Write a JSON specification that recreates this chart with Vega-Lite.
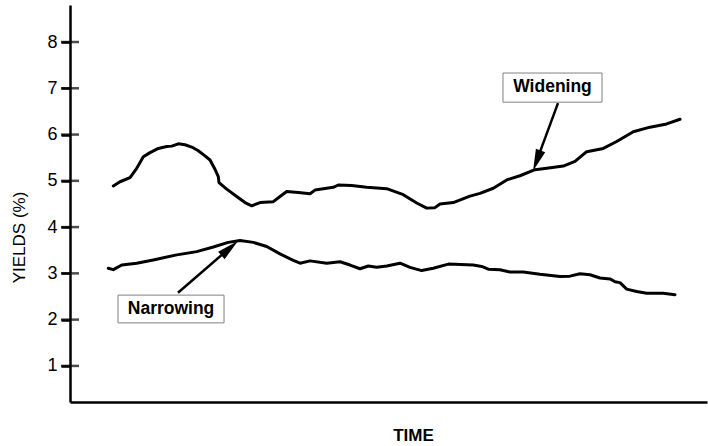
{
  "$schema": "https://vega.github.io/schema/vega-lite/v6.json",
  "autosize": {"type": "none"},
  "padding": {"left": 70, "top": 5, "right": 1, "bottom": 44},
  "width": 637,
  "height": 397,
  "background": "white",
  "config": {
    "view": {"stroke": null},
    "font": "Liberation Sans"
  },
  "datasets": {
    "curves": [
      {"t": 6.80, "yld": 4.89, "series": "upper"},
      {"t": 7.85, "yld": 4.98, "series": "upper"},
      {"t": 9.42, "yld": 5.07, "series": "upper"},
      {"t": 10.47, "yld": 5.27, "series": "upper"},
      {"t": 11.51, "yld": 5.52, "series": "upper"},
      {"t": 12.56, "yld": 5.61, "series": "upper"},
      {"t": 13.86, "yld": 5.70, "series": "upper"},
      {"t": 15.18, "yld": 5.74, "series": "upper"},
      {"t": 15.97, "yld": 5.75, "series": "upper"},
      {"t": 17.00, "yld": 5.80, "series": "upper"},
      {"t": 18.05, "yld": 5.78, "series": "upper"},
      {"t": 19.11, "yld": 5.73, "series": "upper"},
      {"t": 20.14, "yld": 5.65, "series": "upper"},
      {"t": 21.19, "yld": 5.54, "series": "upper"},
      {"t": 21.98, "yld": 5.45, "series": "upper"},
      {"t": 22.76, "yld": 5.25, "series": "upper"},
      {"t": 23.28, "yld": 5.09, "series": "upper"},
      {"t": 23.39, "yld": 4.96, "series": "upper"},
      {"t": 24.60, "yld": 4.82, "series": "upper"},
      {"t": 26.17, "yld": 4.66, "series": "upper"},
      {"t": 27.47, "yld": 4.53, "series": "upper"},
      {"t": 28.52, "yld": 4.46, "series": "upper"},
      {"t": 29.83, "yld": 4.53, "series": "upper"},
      {"t": 31.92, "yld": 4.55, "series": "upper"},
      {"t": 32.97, "yld": 4.66, "series": "upper"},
      {"t": 34.02, "yld": 4.77, "series": "upper"},
      {"t": 35.84, "yld": 4.75, "series": "upper"},
      {"t": 37.68, "yld": 4.72, "series": "upper"},
      {"t": 38.46, "yld": 4.80, "series": "upper"},
      {"t": 41.33, "yld": 4.86, "series": "upper"},
      {"t": 42.12, "yld": 4.91, "series": "upper"},
      {"t": 44.22, "yld": 4.90, "series": "upper"},
      {"t": 46.58, "yld": 4.86, "series": "upper"},
      {"t": 49.72, "yld": 4.83, "series": "upper"},
      {"t": 52.32, "yld": 4.70, "series": "upper"},
      {"t": 54.43, "yld": 4.52, "series": "upper"},
      {"t": 56.00, "yld": 4.41, "series": "upper"},
      {"t": 57.30, "yld": 4.42, "series": "upper"},
      {"t": 58.08, "yld": 4.50, "series": "upper"},
      {"t": 60.17, "yld": 4.53, "series": "upper"},
      {"t": 62.79, "yld": 4.67, "series": "upper"},
      {"t": 64.36, "yld": 4.73, "series": "upper"},
      {"t": 66.45, "yld": 4.84, "series": "upper"},
      {"t": 68.56, "yld": 5.02, "series": "upper"},
      {"t": 70.64, "yld": 5.11, "series": "upper"},
      {"t": 73.00, "yld": 5.24, "series": "upper"},
      {"t": 74.84, "yld": 5.27, "series": "upper"},
      {"t": 77.44, "yld": 5.32, "series": "upper"},
      {"t": 79.28, "yld": 5.42, "series": "upper"},
      {"t": 81.11, "yld": 5.63, "series": "upper"},
      {"t": 83.72, "yld": 5.70, "series": "upper"},
      {"t": 85.82, "yld": 5.85, "series": "upper"},
      {"t": 88.43, "yld": 6.06, "series": "upper"},
      {"t": 91.05, "yld": 6.16, "series": "upper"},
      {"t": 93.67, "yld": 6.23, "series": "upper"},
      {"t": 95.76, "yld": 6.33, "series": "upper"},
      {"t": 6.01, "yld": 3.11, "series": "lower"},
      {"t": 6.80, "yld": 3.08, "series": "lower"},
      {"t": 8.12, "yld": 3.18, "series": "lower"},
      {"t": 10.47, "yld": 3.22, "series": "lower"},
      {"t": 13.08, "yld": 3.29, "series": "lower"},
      {"t": 16.75, "yld": 3.40, "series": "lower"},
      {"t": 19.89, "yld": 3.47, "series": "lower"},
      {"t": 22.50, "yld": 3.57, "series": "lower"},
      {"t": 24.85, "yld": 3.67, "series": "lower"},
      {"t": 26.69, "yld": 3.71, "series": "lower"},
      {"t": 28.78, "yld": 3.67, "series": "lower"},
      {"t": 30.88, "yld": 3.58, "series": "lower"},
      {"t": 32.97, "yld": 3.42, "series": "lower"},
      {"t": 35.05, "yld": 3.28, "series": "lower"},
      {"t": 36.11, "yld": 3.22, "series": "lower"},
      {"t": 37.68, "yld": 3.27, "series": "lower"},
      {"t": 40.30, "yld": 3.22, "series": "lower"},
      {"t": 42.39, "yld": 3.25, "series": "lower"},
      {"t": 43.96, "yld": 3.18, "series": "lower"},
      {"t": 45.53, "yld": 3.10, "series": "lower"},
      {"t": 46.83, "yld": 3.16, "series": "lower"},
      {"t": 48.15, "yld": 3.13, "series": "lower"},
      {"t": 49.72, "yld": 3.16, "series": "lower"},
      {"t": 51.81, "yld": 3.22, "series": "lower"},
      {"t": 53.38, "yld": 3.13, "series": "lower"},
      {"t": 55.21, "yld": 3.06, "series": "lower"},
      {"t": 57.03, "yld": 3.11, "series": "lower"},
      {"t": 59.39, "yld": 3.20, "series": "lower"},
      {"t": 63.31, "yld": 3.18, "series": "lower"},
      {"t": 64.63, "yld": 3.15, "series": "lower"},
      {"t": 65.67, "yld": 3.09, "series": "lower"},
      {"t": 67.50, "yld": 3.08, "series": "lower"},
      {"t": 69.07, "yld": 3.03, "series": "lower"},
      {"t": 71.16, "yld": 3.03, "series": "lower"},
      {"t": 73.78, "yld": 2.98, "series": "lower"},
      {"t": 76.92, "yld": 2.93, "series": "lower"},
      {"t": 78.49, "yld": 2.94, "series": "lower"},
      {"t": 80.06, "yld": 2.99, "series": "lower"},
      {"t": 81.63, "yld": 2.97, "series": "lower"},
      {"t": 83.20, "yld": 2.90, "series": "lower"},
      {"t": 84.77, "yld": 2.88, "series": "lower"},
      {"t": 85.56, "yld": 2.82, "series": "lower"},
      {"t": 86.34, "yld": 2.80, "series": "lower"},
      {"t": 87.39, "yld": 2.66, "series": "lower"},
      {"t": 88.96, "yld": 2.61, "series": "lower"},
      {"t": 90.53, "yld": 2.57, "series": "lower"},
      {"t": 93.13, "yld": 2.57, "series": "lower"},
      {"t": 94.98, "yld": 2.54, "series": "lower"}
    ],
    "yticks": [{"v": 1}, {"v": 2}, {"v": 3}, {"v": 4}, {"v": 5}, {"v": 6}, {"v": 7}, {"v": 8}],
    "notes": [
      {"label": "Widening", "bx0": 67.97, "bx1": 83.52, "by0": 6.70, "by1": 7.33, "tx": 75.75, "ty": 7.02, "ax0": 76.61, "ay0": 6.68, "ax1": 73.23, "ay1": 5.42, "hx": 72.69, "hy": 5.21},
      {"label": "Narrowing", "bx0": 7.54, "bx1": 24.18, "by0": 1.93, "by1": 2.53, "tx": 15.86, "ty": 2.23, "ax0": 16.95, "ay0": 2.58, "ax1": 25.18, "ay1": 3.56, "hx": 26.37, "hy": 3.70}
    ]
  },
  "layer": [
    {
      "data": {"name": "curves"},
      "mark": {"type": "line", "color": "black", "strokeWidth": 3, "strokeJoin": "round", "strokeCap": "round"},
      "encoding": {
        "x": {"field": "t", "type": "quantitative", "scale": {"domain": [0, 100], "nice": false, "zero": false},
          "axis": {"orient": "bottom", "ticks": false, "labels": false, "grid": false, "domainColor": "black", "domainWidth": 2.5, "title": "TIME", "titleFontSize": 17, "titleFontWeight": "bold", "titleColor": "black", "titlePadding": 25, "titleX": 343}},
        "y": {"field": "yld", "type": "quantitative", "scale": {"domain": [0.22, 8.8], "nice": false, "zero": false},
          "axis": {"values": [1, 2, 3, 4, 5, 6, 7, 8], "grid": false, "domainColor": "black", "domainWidth": 2.5, "tickColor": "black", "tickWidth": 2.5, "tickSize": 9, "labelFontSize": 18, "labelColor": "black", "labelPadding": 4, "title": "YIELDS (%)", "titleFontSize": 17, "titleFontWeight": "normal", "titleColor": "black", "titlePadding": 18, "titleY": 232}},
        "detail": {"field": "series"}
      }
    },
    {
      "data": {"name": "yticks"},
      "mark": {"type": "tick", "orient": "horizontal", "color": "black", "size": 18, "thickness": 2.5},
      "encoding": {
        "x": {"datum": 0, "type": "quantitative"},
        "y": {"field": "v", "type": "quantitative"}
      }
    },
    {
      "data": {"name": "notes"},
      "mark": {"type": "rect", "fill": "white", "stroke": "#808080", "strokeWidth": 1},
      "encoding": {
        "x": {"field": "bx0", "type": "quantitative"},
        "x2": {"field": "bx1"},
        "y": {"field": "by0", "type": "quantitative"},
        "y2": {"field": "by1"}
      }
    },
    {
      "data": {"name": "notes"},
      "mark": {"type": "text", "font": "Liberation Sans", "fontWeight": "bold", "fontSize": 17.5, "color": "black", "align": "center", "baseline": "middle"},
      "encoding": {
        "x": {"field": "tx", "type": "quantitative"},
        "y": {"field": "ty", "type": "quantitative"},
        "text": {"field": "label"}
      }
    },
    {
      "data": {"name": "notes"},
      "mark": {"type": "rule", "color": "black", "strokeWidth": 2.5},
      "encoding": {
        "x": {"field": "ax0", "type": "quantitative"},
        "y": {"field": "ay0", "type": "quantitative"},
        "x2": {"field": "ax1"},
        "y2": {"field": "ay1"}
      }
    },
    {
      "data": {"name": "notes"},
      "transform": [{"filter": "datum.label == 'Widening'"}],
      "mark": {"type": "point", "shape": "M0,0L-0.45,2L0.45,2Z", "filled": true, "color": "black", "opacity": 1, "size": 484, "angle": 200},
      "encoding": {
        "x": {"field": "hx", "type": "quantitative"},
        "y": {"field": "hy", "type": "quantitative"}
      }
    },
    {
      "data": {"name": "notes"},
      "transform": [{"filter": "datum.label == 'Narrowing'"}],
      "mark": {"type": "point", "shape": "M0,0L-0.45,2L0.45,2Z", "filled": true, "color": "black", "opacity": 1, "size": 484, "angle": 49},
      "encoding": {
        "x": {"field": "hx", "type": "quantitative"},
        "y": {"field": "hy", "type": "quantitative"}
      }
    }
  ]
}
